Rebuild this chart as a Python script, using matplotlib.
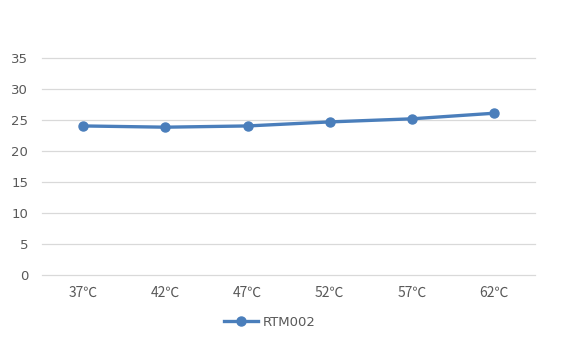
import matplotlib.pyplot as plt

# data
temps = ['37℃', '42℃', '47℃', '52℃', '57℃', '62℃']
rtm002 = [24.05, 23.85, 24.05, 24.7, 25.2, 26.1]

fig = plt.figure(figsize=(5.62, 3.54), dpi=100)
ax = fig.add_axes([0.075, 0.223, 0.877, 0.613])

x = range(len(temps))
ax.plot(x, rtm002, color='#4a7ebb', linewidth=2.4, marker='o', markersize=6.5,
        label='RTM002', zorder=3)

ax.set_xlim(-0.5, len(temps) - 0.5)
ax.set_ylim(0, 35)
ax.set_yticks(range(0, 36, 5))
ax.set_xticks(list(x))
ax.set_xticklabels(temps)
ax.grid(axis='y', color='#d9d9d9', linewidth=0.9)
for gl in ax.get_ygridlines():
    gl.set_clip_on(False)
for s in ax.spines.values():
    s.set_visible(False)
ax.tick_params(length=0, labelsize=9.5, labelcolor='#595959')
ax.tick_params(axis='y', pad=10)
ax.tick_params(axis='x', pad=8)
for lab in ax.get_xticklabels():
    lab.set_family(['Noto Sans CJK SC', 'DejaVu Sans'])
    lab.set_fontsize(10)

fig.legend(loc='center', bbox_to_anchor=(0.48, 0.09), frameon=False,
           fontsize=9.5, labelcolor='#595959', handlelength=2.6, handletextpad=0.3)

plt.savefig('out.png', dpi=100)
